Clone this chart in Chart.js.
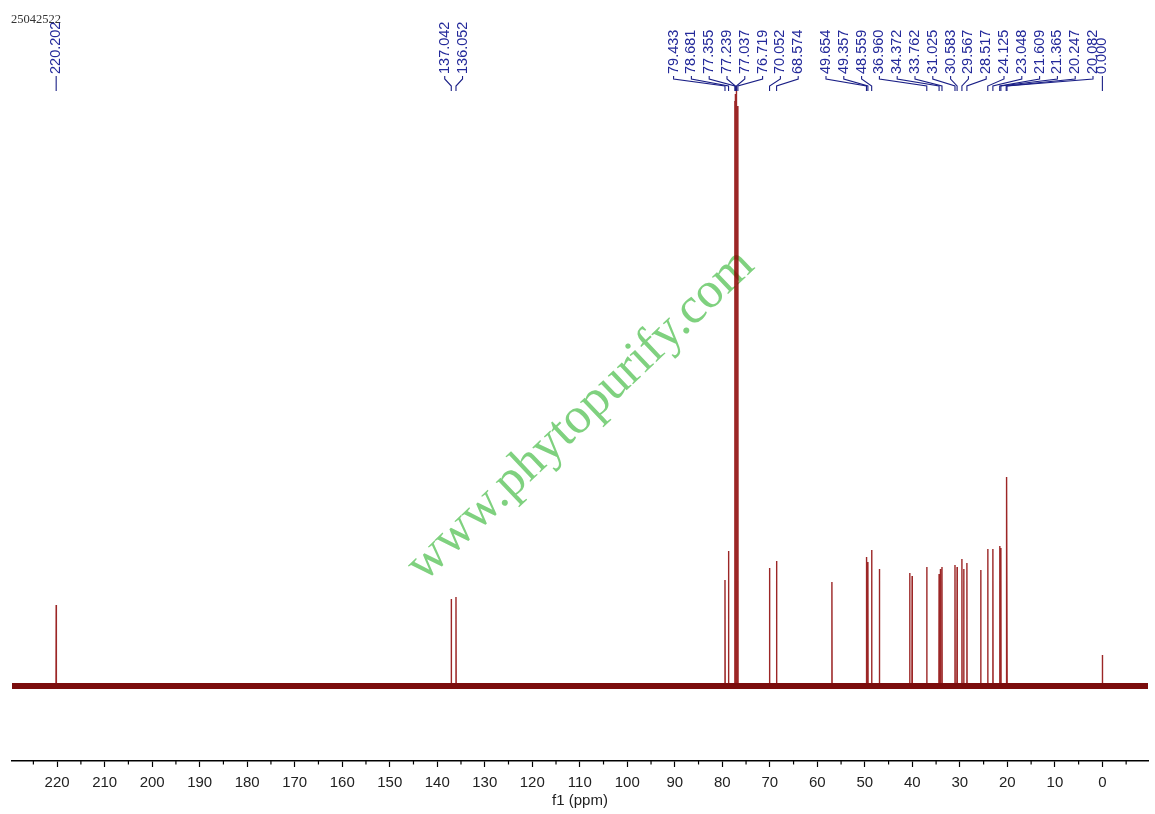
<!DOCTYPE html>
<html><head><meta charset="utf-8">
<script src="https://cdn.jsdelivr.net/npm/chart.js@4.4.1/dist/chart.umd.min.js"></script>
<style>html,body{margin:0;padding:0;background:#fff;overflow:hidden}#wrap{width:1155px;height:814px}</style>
</head><body><div id="wrap"><canvas id="c" width="1155" height="814"></canvas></div>
<script>
// ---- data ----
const sampleId = '25042522';
const watermarkText = 'www.phytopurify.com';
const axisTitle = 'f1 (ppm)';
const ppmMin = -9.6, ppmMax = 229.5;
const majorStep = 10, minorStep = 5;
// peak positions (ppm) and relative intensities
const peakPpm = [220.202, 137.042, 136.052, 79.433, 78.681, 77.355, 77.239, 77.037, 76.719,
  70.052, 68.574, 56.93, 49.654, 49.357, 48.559, 46.93, 40.55, 40.05, 36.960, 34.372, 34.10,
  33.762, 31.025, 30.583, 29.567, 29.18, 28.517, 25.60, 24.125, 23.048, 21.609, 21.365,
  20.247, 20.082, 0.000];
const peakHeight = [81, 87, 89, 106, 135, 585, 592, 600, 580,
  118, 125, 104, 129, 124, 136, 117, 113, 110, 119, 112, 117,
  119, 121, 119, 127, 117, 123, 116, 137, 137, 140, 138,
  136, 209, 31];
// peak-pick labels printed on top
const peakLabels = ['220.202', '137.042', '136.052', '79.433', '78.681', '77.355', '77.239',
  '77.037', '76.719', '70.052', '68.574', '49.654', '49.357', '48.559', '36.960', '34.372',
  '33.762', '31.025', '30.583', '29.567', '28.517', '24.125', '23.048', '21.609', '21.365',
  '20.247', '20.082', '0.000'];

// ---- build series ----
const halfW = 0.04;
const spectrum = [];
peakPpm.forEach((p, i) => {
  spectrum.push({x: p + halfW, y: 0}, {x: p, y: peakHeight[i]}, {x: p - halfW, y: 0});
});
const baseline = [{x: ppmMax, y: 0}, {x: ppmMin, y: 0}];

const decor = {
  id: 'decor',
  beforeDatasetsDraw(chart) {
    const ctx = chart.ctx;
    ctx.save();
    ctx.translate(590, 425);
    ctx.rotate(-43.5 * Math.PI / 180);
    ctx.font = '51px "Liberation Serif"';
    ctx.fillStyle = '#7fd17f';
    ctx.textAlign = 'center';
    ctx.textBaseline = 'alphabetic';
    ctx.fillText(watermarkText, 0, 0);
    ctx.restore();
  },
  afterDraw(chart) {
    const ctx = chart.ctx, xs = chart.scales.x;
    // minor ticks
    ctx.save();
    ctx.strokeStyle = '#000'; ctx.lineWidth = 1.2;
    for (let v = Math.ceil(ppmMin / minorStep) * minorStep; v <= ppmMax; v += minorStep) {
      if (v % majorStep === 0) continue;
      const px = xs.getPixelForValue(v);
      ctx.beginPath(); ctx.moveTo(px, xs.top); ctx.lineTo(px, xs.top + 3.5); ctx.stroke();
    }
    ctx.restore();
    // header
    ctx.save();
    ctx.font = '12.5px "Liberation Serif"';
    ctx.fillStyle = '#333';
    ctx.textBaseline = 'middle';
    ctx.fillText(sampleId, 11, 20);
    ctx.restore();
    // peak labels
    const items = peakLabels.map(s => ({s, v: parseFloat(s), px: xs.getPixelForValue(parseFloat(s))}));
    const clusters = []; let cur = [items[0]];
    for (let i = 1; i < items.length; i++) {
      if (items[i - 1].v - items[i].v < 15) cur.push(items[i]);
      else { clusters.push(cur); cur = [items[i]]; }
    }
    clusters.push(cur);
    const gap = 17.8;
    clusters.forEach(cl => {
      const ps = cl.map(it => it.px).sort((a, b) => a - b);
      const n = ps.length;
      const med = n % 2 ? ps[(n - 1) / 2] : (ps[n / 2 - 1] + ps[n / 2]) / 2;
      cl.forEach((it, k) => { it.lx = med + (k - (n - 1) / 2) * gap; });
    });
    ctx.save();
    ctx.strokeStyle = '#1a1f86'; ctx.lineWidth = 1.1;
    items.forEach(it => {
      ctx.beginPath();
      ctx.moveTo(it.lx, 76); ctx.lineTo(it.lx, 79); ctx.lineTo(it.px, 86); ctx.lineTo(it.px, 91);
      ctx.stroke();
    });
    ctx.font = '14.5px "Liberation Sans"';
    ctx.fillStyle = '#23299a';
    ctx.textAlign = 'left'; ctx.textBaseline = 'middle';
    items.forEach(it => {
      ctx.save();
      ctx.translate(it.lx, 74);
      ctx.rotate(-Math.PI / 2);
      ctx.fillText(it.s, 0, 0);
      ctx.restore();
    });
    ctx.restore();
  }
};

new Chart(document.getElementById('c'), {
  type: 'scatter',
  data: {
    datasets: [
      {data: baseline, showLine: true, pointRadius: 0, borderColor: '#7b0d0d', borderWidth: 6},
      {data: spectrum, showLine: true, pointRadius: 0, borderColor: 'rgba(139,0,0,0.85)', borderWidth: 1.4, tension: 0}
    ]
  },
  options: {
    responsive: false, animation: false, devicePixelRatio: 1,
    layout: {padding: {top: 86, left: 12, right: 7, bottom: 0}},
    plugins: {legend: {display: false}, tooltip: {enabled: false}},
    scales: {
      x: {
        type: 'linear', reverse: true, min: ppmMin, max: ppmMax,
        border: {display: true, color: '#000', width: 1.5},
        grid: {display: true, drawOnChartArea: false, drawTicks: true, tickLength: 6, tickColor: '#000', tickWidth: 1.2},
        ticks: {stepSize: majorStep, includeBounds: false, autoSkip: false, maxRotation: 0,
          font: {family: 'Liberation Sans', size: 15}, color: '#222', padding: 7},
        title: {display: true, text: axisTitle, font: {family: 'Liberation Sans', size: 15}, color: '#222', padding: {top: 0, bottom: 4}},
        afterFit(s) { s.height = 53; }
      },
      y: {display: false, min: -75, max: 600}
    }
  },
  plugins: [decor]
});
</script></body></html>
